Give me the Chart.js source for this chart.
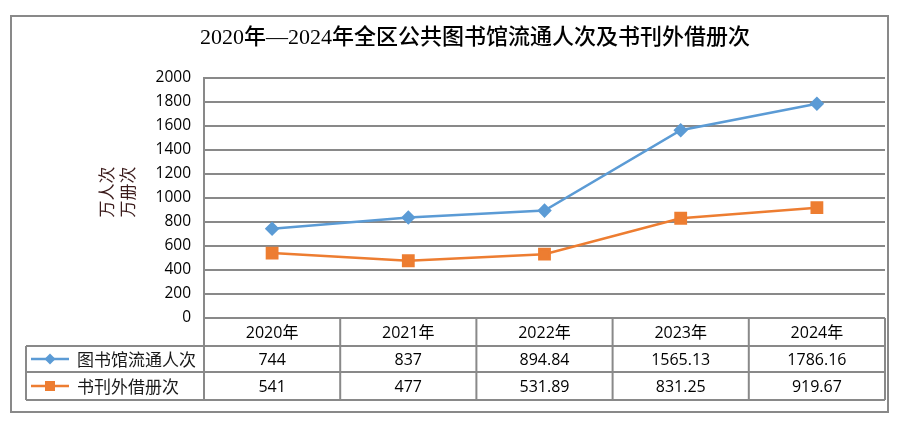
<!DOCTYPE html>
<html><head><meta charset="utf-8">
<script src="https://cdn.jsdelivr.net/npm/chart.js@4.4.1/dist/chart.umd.min.js"></script>
<style>html,body{margin:0;padding:0;background:#fff}</style>
</head><body>
<canvas id="c" width="906" height="423" style="width:906px;height:423px;display:block"></canvas>
<script>
const categories = ['2020年', '2021年', '2022年', '2023年', '2024年'];
const seriesNames = ['图书馆流通人次', '书刊外借册次'];
const visitors = [744, 837, 894.84, 1565.13, 1786.16];
const loans = [541, 477, 531.89, 831.25, 919.67];
const yMin = 0, yMax = 2000, yStep = 200;
const chartTitle = '2020年—2024年全区公共图书馆流通人次及书刊外借册次';
const yTitleLines = ['万人次', '万册次'];

const BLUE = '#5B9BD5', ORANGE = '#ED7D31', GRID = '#898989';
const NUMFONT = '"Open Sans","Noto Sans CJK SC",sans-serif';
const CJKFONT = '"Noto Sans CJK SC",sans-serif';

function drawMarker(ctx, style, x, y, color) {
  ctx.fillStyle = color;
  ctx.beginPath();
  if (style === 'rectRot') {
    const r = 5.5;
    ctx.moveTo(x, y - r); ctx.lineTo(x + r, y); ctx.lineTo(x, y + r); ctx.lineTo(x - r, y);
    ctx.closePath();
  } else {
    ctx.rect(x - 5, y - 5, 10, 10);
  }
  ctx.fill();
}

const framePlugin = {
  id: 'frame',
  afterDraw(chart) {
    const ctx = chart.ctx, a = chart.chartArea;
    const n = categories.length;
    const bw = (a.right - a.left) / n;
    const y0 = a.bottom, y1 = y0 + 28, y2 = y1 + 26, y3 = y2 + 28;
    const tableLeft = 26;
    ctx.save();
    ctx.strokeStyle = GRID; ctx.lineWidth = 2;
    ctx.beginPath();
    [y1, y2, y3].forEach(y => { ctx.moveTo(tableLeft, y); ctx.lineTo(a.right, y); });
    for (let i = 0; i <= n; i++) {
      const x = a.left + i * bw;
      ctx.moveTo(x, y0); ctx.lineTo(x, y3);
    }
    ctx.moveTo(tableLeft, y1); ctx.lineTo(tableLeft, y3);
    ctx.stroke();

    ctx.fillStyle = '#000';
    ctx.textAlign = 'center'; ctx.textBaseline = 'middle';
    ctx.font = '16px ' + NUMFONT;
    const xs = chart.scales.x;
    categories.forEach((c, i) => {
      const cx = xs.getPixelForValue(i);
      ctx.fillText(c, cx, (y0 + y1) / 2 + 1);
      ctx.fillText(String(visitors[i]), cx, (y1 + y2) / 2 + 1);
      ctx.fillText(String(loans[i]), cx, (y2 + y3) / 2 + 1);
    });

    const rows = [[(y1 + y2) / 2, BLUE, 'rectRot', seriesNames[0]], [(y2 + y3) / 2, ORANGE, 'rect', seriesNames[1]]];
    rows.forEach(([cy, col, st, name]) => {
      ctx.strokeStyle = col; ctx.lineWidth = 2.5;
      ctx.beginPath(); ctx.moveTo(31, cy); ctx.lineTo(69, cy); ctx.stroke();
      drawMarker(ctx, st, 50, cy, col);
      ctx.fillStyle = '#1a1a1a';
      ctx.textAlign = 'left';
      ctx.font = '17px ' + CJKFONT;
      ctx.fillText(name, 77, cy + 1);
    });

    ctx.fillStyle = '#000';
    ctx.textAlign = 'center'; ctx.textBaseline = 'middle';
    ctx.font = '500 22px "Liberation Serif","Noto Sans CJK SC",serif';
    ctx.fillText(chartTitle, 475, 38);

    ctx.save();
    ctx.translate(117, 192);
    ctx.rotate(-Math.PI / 2);
    ctx.fillStyle = '#3a1a1a';
    ctx.font = '17px ' + CJKFONT;
    ctx.fillText(yTitleLines[0], 0, -10);
    ctx.fillText(yTitleLines[1], 0, 11);
    ctx.restore();

    ctx.strokeStyle = GRID; ctx.lineWidth = 2;
    ctx.strokeRect(11, 16, 877, 396);
    ctx.restore();
  }
};

new Chart(document.getElementById('c'), {
  type: 'line',
  data: {
    labels: categories,
    datasets: [
      { label: seriesNames[0], data: visitors, borderColor: BLUE, backgroundColor: BLUE,
        borderWidth: 2.5, pointStyle: 'rectRot', pointRadius: 5.5, pointHoverRadius: 5.5, tension: 0 },
      { label: seriesNames[1], data: loans, borderColor: ORANGE, backgroundColor: ORANGE,
        borderWidth: 2.5, pointStyle: 'rect', pointRadius: 7.3, pointHoverRadius: 7.3, tension: 0 }
    ]
  },
  options: {
    responsive: false, animation: false, devicePixelRatio: 1,
    layout: { padding: { left: 0, top: 78, right: 21, bottom: 105 } },
    plugins: { legend: { display: false }, title: { display: false }, tooltip: { enabled: false } },
    scales: {
      x: { display: false, offset: true },
      y: {
        min: yMin, max: yMax,
        afterFit(s) { s.width = 204; },
        ticks: { stepSize: yStep, color: '#000', padding: 13, font: { size: 15.5, family: NUMFONT },
          callback: v => String(v) },
        grid: { color: GRID, lineWidth: 2, drawTicks: false },
        border: { display: true, color: GRID, width: 2 }
      }
    }
  },
  plugins: [framePlugin]
});
</script>
</body></html>
